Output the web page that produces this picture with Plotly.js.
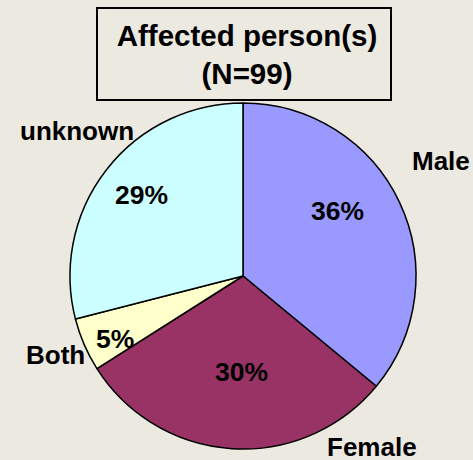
<!DOCTYPE html>
<html>
<head>
<meta charset="utf-8">
<script src="https://cdn.plot.ly/plotly-3.0.1.min.js"></script>
<style>html,body{margin:0;padding:0;background:#ECE9E0;}</style>
</head>
<body>
<div id="chart" style="width:473px;height:460px;"></div>
<script>
// Data
const categories = ["Male", "Female", "Both", "unknown"];
const values = [36, 30, 5, 29];
const sliceColors = ["#9999FF", "#993366", "#FFFFCC", "#CCFFFF"];
const chartTitle = "Affected person(s)<br>(N=99)";

// Layout-only positions (paper fractions) for outer labels and inner percentages
const labelPos = [
  {x: 441/473, y: 1 - 161/460},
  {x: 372/473, y: 1 - 447/460},
  {x: 55/473,  y: 1 - 355/460},
  {x: 77/473,  y: 1 - 131/460}
];
const pctPos = [
  {x: 337/473, y: 1 - 211/460},
  {x: 241/473, y: 1 - 372/460},
  {x: 115/473, y: 1 - 339/460},
  {x: 141/473, y: 1 - 195/460}
];

const FONT = "Liberation Sans, Arial, sans-serif";
const total = values.reduce((a, b) => a + b, 0);

const trace = {
  type: "pie",
  labels: categories,
  values: values,
  sort: false,
  direction: "clockwise",
  rotation: 0,
  marker: {colors: sliceColors, line: {color: "#000000", width: 1.5}},
  textinfo: "none",
  textposition: "none",
  domain: {x: [70/473, 416/473], y: [11/460, 357/460]},
  hoverinfo: "label+percent",
  showlegend: false
};

const labelAnn = categories.map((c, i) => ({
  text: c,
  xref: "paper", yref: "paper",
  x: labelPos[i].x, y: labelPos[i].y,
  xanchor: "center", yanchor: "middle",
  showarrow: false,
  font: {family: FONT, size: 26, color: "#000000", weight: "bold"}
}));
const pctAnn = values.map((v, i) => ({
  text: Math.round(v / total * 100) + "%",
  xref: "paper", yref: "paper",
  x: pctPos[i].x, y: pctPos[i].y,
  xanchor: "center", yanchor: "middle",
  showarrow: false,
  font: {family: FONT, size: 26.5, color: "#000000", weight: "bold"}
}));

const layout = {
  width: 473, height: 460,
  margin: {l: 0, r: 0, t: 0, b: 0},
  paper_bgcolor: "#ECE9E0",
  plot_bgcolor: "#ECE9E0",
  title: {
    text: chartTitle,
    font: {family: FONT, size: 29.5, color: "#000000", weight: "bold"},
    x: 247/473, xanchor: "center",
    y: 1 - 46/460, yanchor: "middle",
    xref: "paper", yref: "paper"
  },
  shapes: [{
    type: "rect", xref: "paper", yref: "paper",
    x0: 97/473, x1: 391/473, y0: 1 - 100/460, y1: 1 - 8/460,
    line: {color: "#000000", width: 2},
    fillcolor: "rgba(0,0,0,0)",
    layer: "below"
  }],
  annotations: labelAnn.concat(pctAnn)
};

Plotly.newPlot("chart", [trace], layout, {displayModeBar: false, staticPlot: true});
</script>
</body>
</html>
